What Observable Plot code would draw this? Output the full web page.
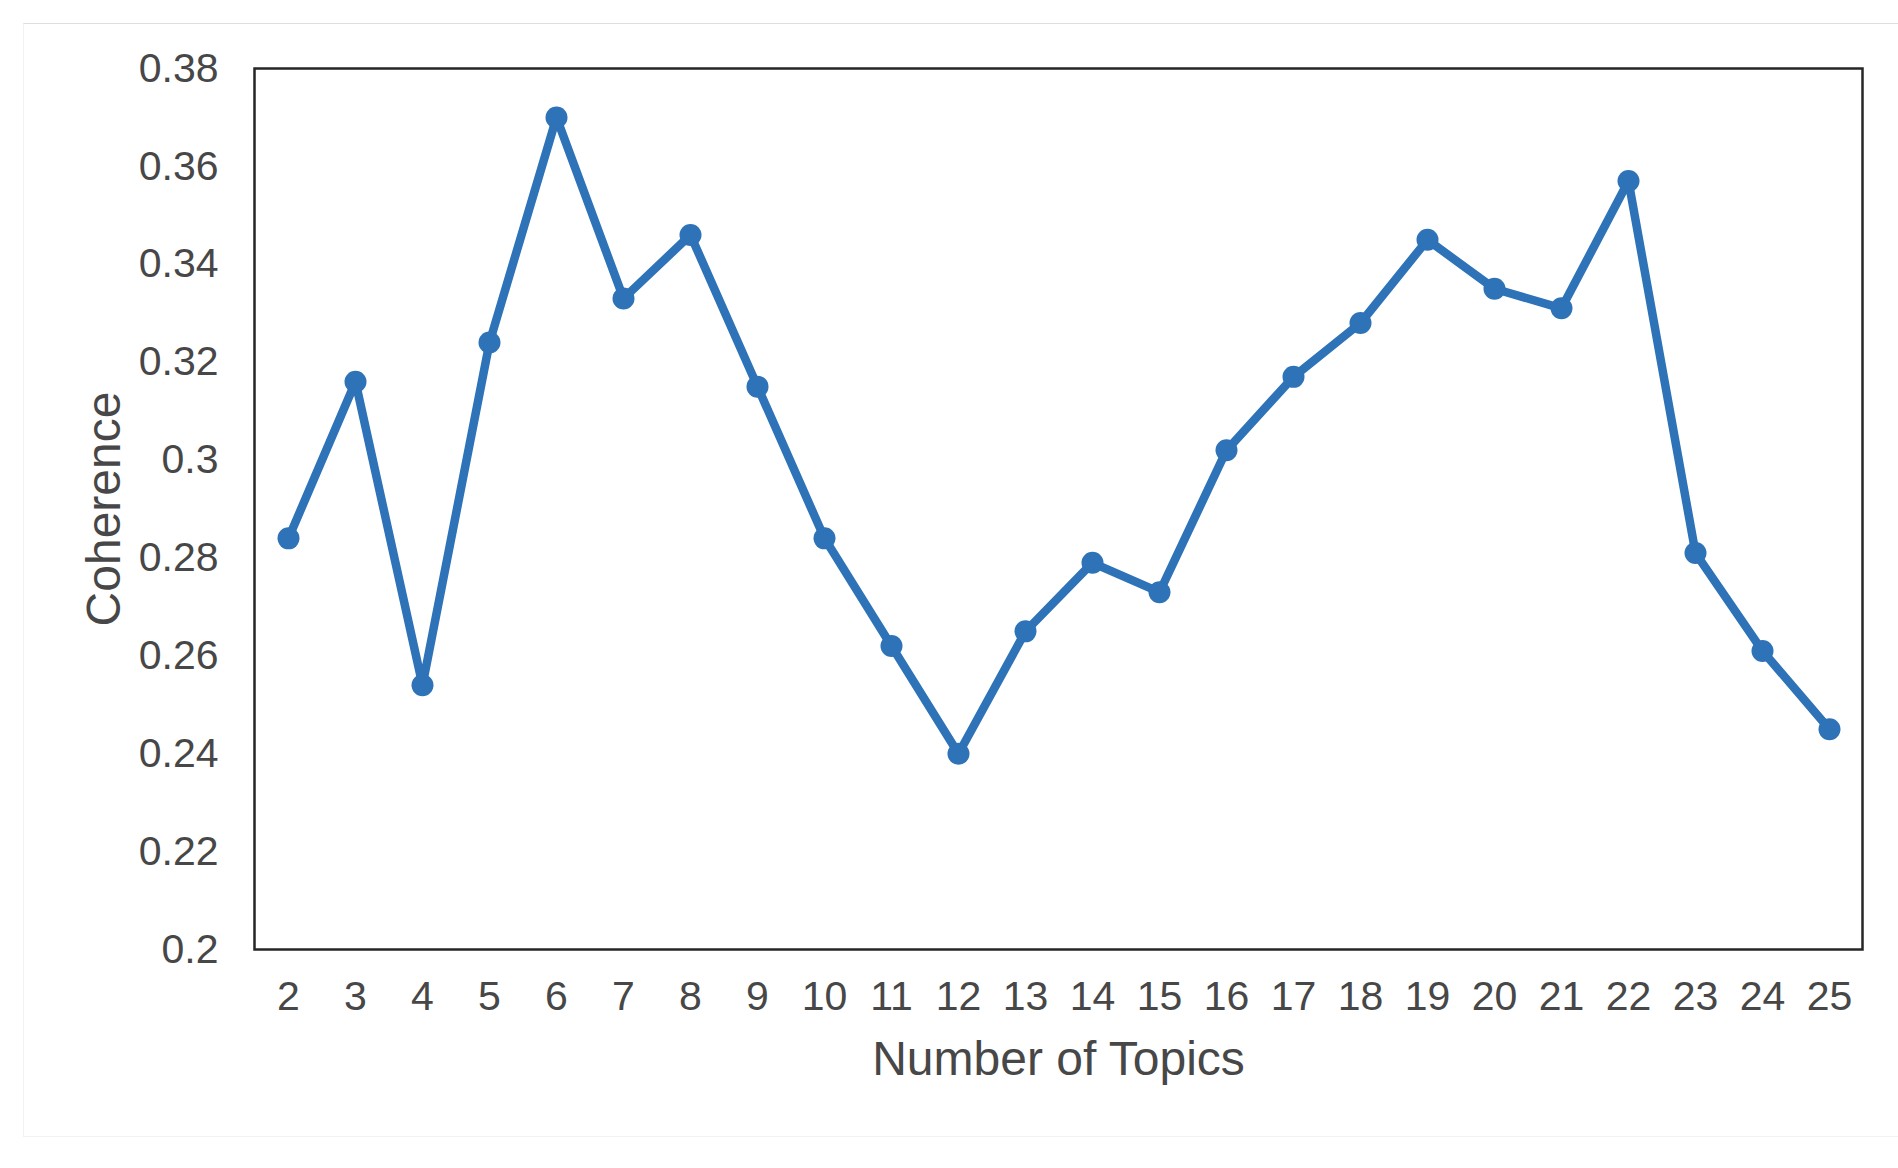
<!DOCTYPE html>
<html>
<head>
<meta charset="utf-8">
<script src="https://cdn.jsdelivr.net/npm/d3@7"></script>
<script src="https://cdn.jsdelivr.net/npm/@observablehq/plot@0.6"></script>
<style>
  html, body { margin: 0; padding: 0; background: #ffffff; overflow: hidden; }
  #wrap { position: relative; width: 1898px; height: 1168px; }
  #card { position: absolute; left: 23px; top: 23px; width: 1890px; height: 1114px;
          border-top: 1px solid #dedede; border-left: 1px solid #f2f2f2; border-bottom: 1px solid #f2f2f2; box-sizing: border-box; }
  #chart { position: absolute; left: 0; top: 0; }
</style>
</head>
<body>
<div id="wrap"><div id="card"></div><div id="chart"></div></div>
<script>
const topics = [2, 3, 4, 5, 6, 7, 8, 9, 10, 11, 12, 13, 14, 15, 16, 17, 18, 19, 20, 21, 22, 23, 24, 25];
const coherence = [0.284, 0.316, 0.254, 0.324, 0.370, 0.333, 0.346, 0.315, 0.284, 0.262, 0.240, 0.265,
                   0.279, 0.273, 0.302, 0.317, 0.328, 0.345, 0.335, 0.331, 0.357, 0.281, 0.261, 0.245];
const yTicks = [0.2, 0.22, 0.24, 0.26, 0.28, 0.3, 0.32, 0.34, 0.36, 0.38];
const xTitle = "Number of Topics";
const yTitle = "Coherence";

const data = topics.map((t, i) => ({topic: t, value: coherence[i]}));
const blue = "#2e72b7";
const textColor = "#474747";
const font = "Liberation Sans, Arial, Helvetica, sans-serif";

const chart = Plot.plot({
  width: 1898,
  height: 1168,
  marginLeft: 254,
  marginRight: 36,
  marginTop: 68,
  marginBottom: 219,
  style: {background: "none", fontFamily: font, color: textColor},
  x: {type: "point", domain: topics, padding: 0.5, align: 0.5, axis: null},
  y: {domain: [0.2, 0.38], axis: null},
  marks: [
    Plot.axisY(yTicks, {tickSize: 0, tickPadding: 36, fontSize: 41, fill: textColor, label: null,
      tickFormat: d => String(+d.toFixed(2))}),
    Plot.axisX(topics, {tickSize: 0, tickPadding: 31, fontSize: 41, fill: textColor, label: null,
      tickFormat: d => String(d)}),
    Plot.frame({stroke: "#262626", strokeWidth: 2.5}),
    Plot.line(data, {x: "topic", y: "value", stroke: blue, strokeWidth: 8.5, strokeLinejoin: "round"}),
    Plot.dot(data, {x: "topic", y: "value", r: 11, fill: blue, stroke: "none"}),
    Plot.text([xTitle], {frameAnchor: "bottom", dy: 110, fontSize: 48, fill: textColor, lineAnchor: "middle", textAnchor: "middle"}),
    Plot.text([yTitle], {frameAnchor: "left", dx: -150, rotate: -90, fontSize: 48, fill: textColor, lineAnchor: "middle", textAnchor: "middle"})
  ]
});
document.getElementById("chart").appendChild(chart);
</script>
</body>
</html>
